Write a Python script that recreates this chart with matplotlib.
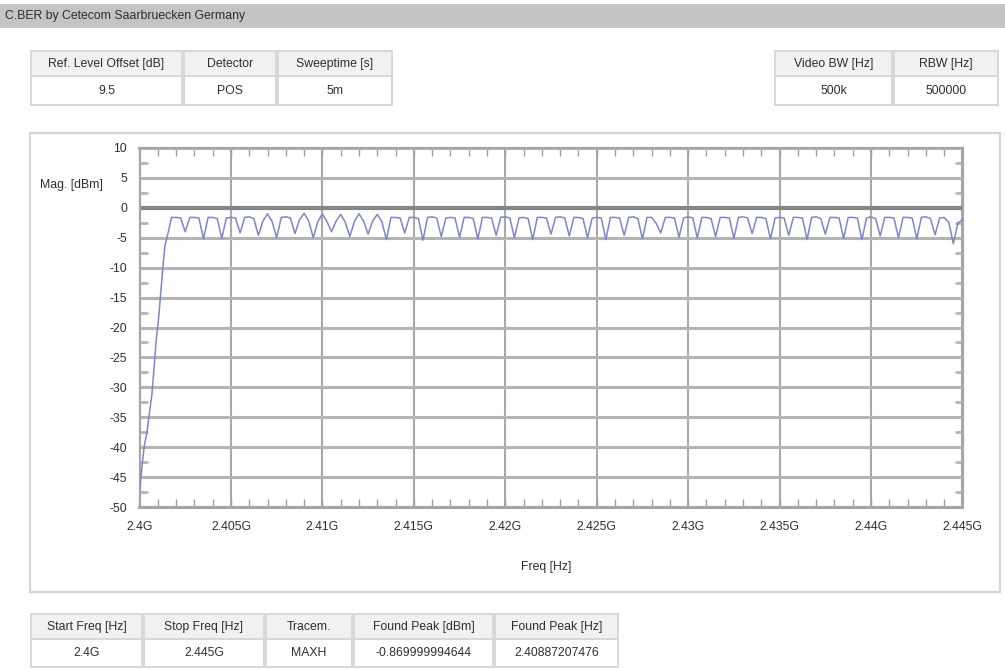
import numpy as np
import matplotlib
matplotlib.use("Agg")
import matplotlib.pyplot as plt
from matplotlib.patches import Rectangle

plt.rcParams['font.family'] = ['Liberation Sans', 'DejaVu Sans']

# ---------------- data ----------------
title_text = "C.BER by Cetecom Saarbruecken Germany"
top_left_headers = ["Ref. Level Offset [dB]", "Detector", "Sweeptime [s]"]
top_left_values = ["9.5", "POS", "5m"]
top_right_headers = ["Video BW [Hz]", "RBW [Hz]"]
top_right_values = ["500k", "500000"]
bottom_headers = ["Start Freq [Hz]", "Stop Freq [Hz]", "Tracem.", "Found Peak [dBm]", "Found Peak [Hz]"]
bottom_values = ["2.4G", "2.445G", "MAXH", "-0.869999994644", "2.40887207476"]

x_label = "Freq [Hz]"
y_label = "Mag. [dBm]"
x_ticks_mhz = [2400, 2405, 2410, 2415, 2420, 2425, 2430, 2435, 2440, 2445]
x_tick_labels = ["2.4G", "2.405G", "2.41G", "2.415G", "2.42G", "2.425G",
                 "2.43G", "2.435G", "2.44G", "2.445G"]
y_ticks = [10, 5, 0, -5, -10, -15, -20, -25, -30, -35, -40, -45, -50]

# band-edge rise of the max-hold trace
rise_freq_mhz = [2400.00, 2400.12, 2400.26, 2400.41, 2400.52, 2400.67,
                 2400.79, 2400.92, 2401.05, 2401.27, 2401.39, 2401.58]
rise_level_dbm = [-47.6, -43.7, -39.8, -37.5, -34.8, -31.4,
                  -27.0, -21.9, -18.3, -10.2, -6.3, -4.0]

# hopping-channel part, sweep points every 0.25 MHz from 2401.75 MHz
sweep_start_mhz = 2401.75
sweep_stop_mhz = 2445.0
sweep_step_mhz = 0.25
sweep_level_dbm = [
    -1.6, -1.6, -1.7, -4.0,   # 2402
    -1.6, -1.6, -1.7, -5.2,   # 2403
    -1.6, -1.6, -1.8, -5.1,   # 2404
    -1.7, -1.6, -1.7, -4.2,   # 2405
    -1.6, -1.5, -1.8, -4.6,   # 2406
    -2.2, -1.0, -2.3, -5.0,   # 2407
    -1.6, -1.5, -1.7, -4.3,   # 2408
    -2.0, -0.9, -2.2, -5.0,   # 2409
    -2.3, -1.0, -2.3, -4.0,   # 2410
    -2.2, -1.1, -2.4, -4.8,   # 2411
    -2.3, -1.0, -2.2, -4.4,   # 2412
    -2.2, -1.1, -2.3, -5.3,   # 2413
    -1.6, -1.6, -1.7, -4.2,   # 2414
    -1.6, -1.6, -1.8, -5.4,   # 2415
    -1.6, -1.5, -1.7, -4.8,   # 2416
    -1.7, -1.6, -1.7, -4.9,   # 2417
    -1.6, -1.6, -1.8, -5.2,   # 2418
    -1.6, -1.6, -1.7, -4.6,   # 2419
    -1.6, -1.5, -1.7, -5.0,   # 2420
    -1.7, -1.6, -1.8, -5.3,   # 2421
    -1.6, -1.6, -1.7, -4.4,   # 2422
    -1.6, -1.5, -1.7, -4.7,   # 2423
    -1.6, -1.6, -1.8, -5.0,   # 2424
    -1.7, -1.6, -1.7, -5.3,   # 2425
    -1.6, -1.6, -1.7, -4.6,   # 2426
    -1.6, -1.5, -1.8, -5.2,   # 2427
    -1.6, -1.6, -2.6, -4.2,   # 2428
    -1.6, -1.6, -1.7, -4.9,   # 2429
    -1.7, -1.5, -1.7, -5.0,   # 2430
    -1.6, -1.6, -1.8, -4.8,   # 2431
    -1.6, -1.6, -1.7, -5.1,   # 2432
    -1.6, -1.5, -1.7, -4.3,   # 2433
    -1.6, -1.6, -1.8, -5.2,   # 2434
    -1.7, -1.6, -1.7, -4.6,   # 2435
    -1.6, -1.6, -1.7, -5.3,   # 2436
    -1.6, -1.5, -1.8, -4.4,   # 2437
    -1.6, -1.6, -1.7, -5.1,   # 2438
    -1.6, -1.6, -1.7, -5.3,   # 2439
    -1.7, -1.5, -1.8, -4.7,   # 2440
    -1.6, -1.6, -1.7, -5.0,   # 2441
    -1.6, -1.6, -1.7, -5.2,   # 2442
    -1.6, -1.5, -1.8, -4.5,   # 2443
    -1.7, -1.6, -2.4, -6.0,   # 2444
    -2.5, -2.0,               # 2444.75, 2445.0
]

sweep_freq_mhz = np.arange(sweep_start_mhz, sweep_stop_mhz + 1e-9, sweep_step_mhz)
trace_freq = np.concatenate([rise_freq_mhz, sweep_freq_mhz])
trace_level = np.concatenate([rise_level_dbm, sweep_level_dbm])

# ---------------- figure ----------------
W, H = 1005, 670
fig = plt.figure(figsize=(W / 100, H / 100), dpi=100)
fig.patch.set_facecolor('white')

bg = fig.add_axes([0, 0, 1, 1])
bg.set_xlim(0, W)
bg.set_ylim(H, 0)
bg.axis('off')

TXT = '#2e2e2e'
FS = 8.8

# title bar
bg.add_patch(Rectangle((0, 4), W, 24, fc='#c4c4c4', ec='none'))
bg.text(5, 16.5, title_text, fontsize=FS, color=TXT, ha='left', va='center')


def draw_table(x_edges, top, mid, bottom, headers, values):
    bg.add_patch(Rectangle((x_edges[0], top), x_edges[-1] - x_edges[0], bottom - top,
                           fc='#d8d8d8', ec='none'))
    for i in range(len(headers)):
        x0, x1 = x_edges[i], x_edges[i + 1]
        bg.add_patch(Rectangle((x0 + 2, top + 2), x1 - x0 - 4, mid - top - 3,
                               fc='#f1f1f1', ec='none'))
        bg.add_patch(Rectangle((x0 + 2, mid + 1), x1 - x0 - 4, bottom - mid - 3,
                               fc='white', ec='none'))
        bg.text((x0 + x1) / 2, (top + mid) / 2 + 1, headers[i], fontsize=FS,
                color=TXT, ha='center', va='center')
        bg.text((x0 + x1) / 2, (mid + bottom) / 2, values[i], fontsize=FS,
                color=TXT, ha='center', va='center')


draw_table([30, 183, 277, 393], 50, 76, 106, top_left_headers, top_left_values)
draw_table([774, 893, 999], 50, 76, 106, top_right_headers, top_right_values)
draw_table([30, 143, 265, 353, 494, 619], 613, 639, 668, bottom_headers, bottom_values)

# chart panel frame
bg.add_patch(Rectangle((30, 133), 970, 459, fill=False, ec='#d6d6d6', lw=1.6))

# axis labels (figure pixel positions)
bg.text(71, 185, y_label, fontsize=FS, color=TXT, ha='center', va='center')
bg.text(546, 567, x_label, fontsize=FS, color=TXT, ha='center', va='center')

# plot axes
L, T, R, B = 139.5, 148, 962.5, 507
ax = fig.add_axes([L / W, 1 - B / H, (R - L) / W, (B - T) / H])
ax.set_facecolor('white')
ax.set_xlim(x_ticks_mhz[0], x_ticks_mhz[-1])
ax.set_ylim(y_ticks[-1], y_ticks[0])

ax.set_xticks(x_ticks_mhz)
ax.set_xticklabels(x_tick_labels)
ax.set_yticks(y_ticks)
ax.set_yticklabels([str(v) for v in y_ticks])
ax.set_xticks(np.arange(x_ticks_mhz[0], x_ticks_mhz[-1] + 1, 1), minor=True)
ax.set_yticks(np.arange(y_ticks[-1], y_ticks[0] + 0.1, 2.5), minor=True)

ax.yaxis.grid(True, which='major', color='#b4b4b4', lw=2.2, zorder=0)
ax.xaxis.grid(True, which='major', color='#a9a9a9', lw=1.5, zorder=0)
ax.axhline(0, color='#858585', lw=3.0, zorder=1)
ax.set_axisbelow(True)

ax.tick_params(axis='x', which='both', direction='in', top=True, bottom=True,
               length=6, width=1.0, color='#a0a0a0', labelsize=FS,
               labelcolor=TXT, pad=10)
ax.tick_params(axis='y', which='major', length=0, labelsize=FS,
               labelcolor=TXT, pad=9)
ax.tick_params(axis='y', which='minor', direction='in', left=True, right=True,
               length=6, width=2.0, color='#b4b4b4')

for s in ax.spines.values():
    s.set_color('#a6a6a6')
    s.set_linewidth(1.6)
ax.spines['bottom'].set_linewidth(2.2)

ax.plot(trace_freq, trace_level, color='#7d86c9', lw=1.1, zorder=3)

fig.savefig('out.png', dpi=100, facecolor='white')
